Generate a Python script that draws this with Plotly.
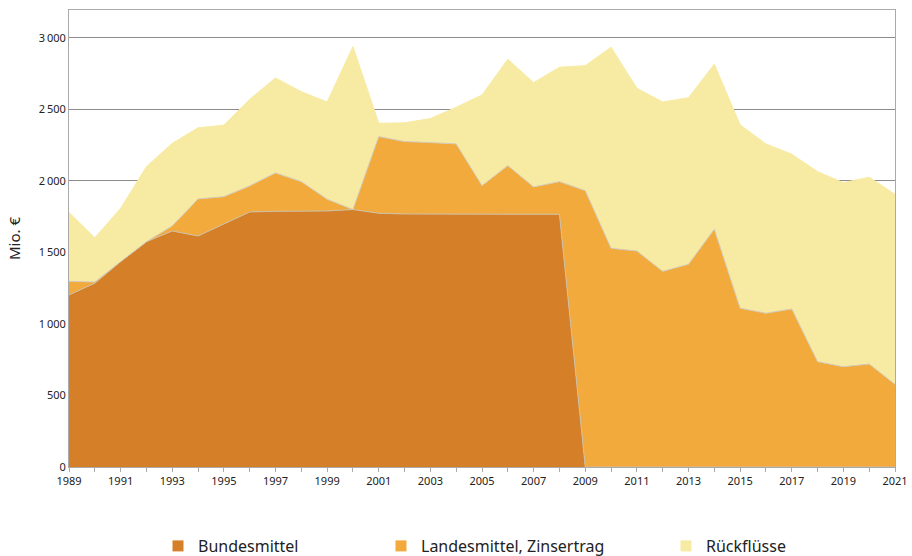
import plotly.graph_objects as go

years = list(range(1989, 2022))
bundesmittel = [1203, 1285, 1436, 1575, 1650, 1615, 1699, 1783, 1788, 1790, 1790, 1800,
                1774, 1769, 1769, 1769, 1769, 1769, 1769, 1767, 0, 0, 0, 0, 0, 0, 0, 0,
                0, 0, 0, 0, 0]
landesmittel = [95, 8, 0, 0, 35, 259, 191, 182, 268, 205, 82, 0,
                536, 506, 499, 490, 198, 338, 189, 228, 1932, 1529, 1510, 1368, 1417, 1662,
                1110, 1075, 1105, 736, 701, 720, 578]
rueckfluesse = [482, 309, 373, 525, 578, 497, 500, 606, 664, 629, 680, 1139,
                93, 131, 168, 256, 634, 744, 729, 800, 874, 1406, 1138, 1184, 1165, 1154,
                1282, 1184, 1082, 1329, 1287, 1306, 1329]

names = ["Bundesmittel", "Landesmittel, Zinsertrag", "Rückflüsse"]
colors = ["#D57F28", "#F2AA3C", "#F7EBA3"]
edge = ["#cdbfa8", "#d3c9b6", "#F7EBA3"]

ytick_vals = [0, 500, 1000, 1500, 2000, 2500, 3000]
ytick_text = ["0", "500", "1\u2009000", "1\u2009500", "2\u2009000", "2\u2009500", "3\u2009000"]
xtick_text = [str(y) if (y - 1989) % 2 == 0 else "" for y in years]

FONT = "Noto Sans"
fig = go.Figure()
for i, (nm, vals) in enumerate(zip(names, [bundesmittel, landesmittel, rueckfluesse])):
    fig.add_trace(go.Scatter(
        x=years, y=vals, stackgroup="one", mode="lines",
        line=dict(color=edge[i], width=1), fillcolor=colors[i],
        name=nm, showlegend=False, hoverinfo="x+y+name"))

legend_x = [168, 391, 676]
for i, nm in enumerate(names):
    fig.add_trace(go.Scatter(
        x=[None], y=[None], mode="markers", name=nm,
        marker=dict(symbol="square", size=11, color=colors[i]),
        legend="legend" if i == 0 else f"legend{i+1}", showlegend=True))

legend_common = dict(xref="container", yref="container", y=1 - 546 / 556, yanchor="middle",
                     xanchor="left", orientation="h", bgcolor="rgba(0,0,0,0)",
                     font=dict(family=FONT, size=16, color="#222"), itemwidth=30)
fig.update_layout(
    width=912, height=556,
    margin=dict(l=69, r=17, t=10, b=89),
    plot_bgcolor="white", paper_bgcolor="white",
    font=dict(family=FONT, color="#222"),
    legend=dict(x=(legend_x[0] - 10) / 912, **legend_common),
    legend2=dict(x=(legend_x[1] - 10) / 912, **legend_common),
    legend3=dict(x=(legend_x[2] - 10) / 912, **legend_common),
    xaxis=dict(range=[1989, 2021], tickmode="array", tickvals=years, ticktext=xtick_text,
               ticks="outside", ticklen=4, tickcolor="#aaaaaa", showline=True,
               linecolor="#aaaaaa", linewidth=1, mirror=True, showgrid=False,
               tickfont=dict(size=11, color="#222"), zeroline=False, automargin=False),
    yaxis=dict(range=[0, 3195], tickmode="array", tickvals=ytick_vals, ticktext=ytick_text,
               showgrid=True, gridcolor="#8c8c8c", gridwidth=1, showline=True,
               linecolor="#aaaaaa", linewidth=1, mirror=True, zeroline=False,
               tickfont=dict(size=11, color="#222"), ticks="", automargin=False,
               title=dict(text="Mio. €", font=dict(size=15, color="#222"), standoff=14)),
)
fig.write_html("out.html", config={"displayModeBar": False},
               post_script="document.body.style.margin='0';document.body.style.padding='0';")
